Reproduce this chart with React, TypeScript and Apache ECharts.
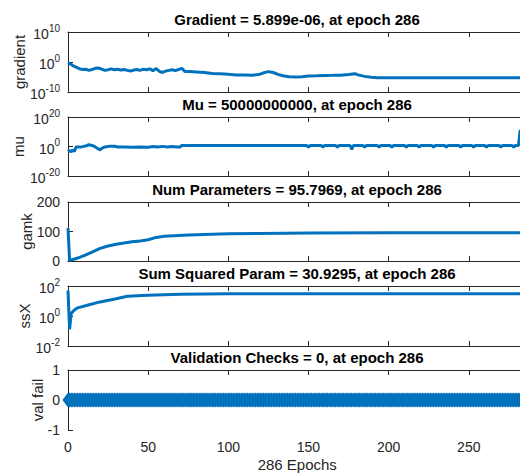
import React, { useEffect, useRef } from "react";
import * as echarts from "echarts";

// ---------- data ----------
const xTicks = [0, 50, 100, 150, 200, 250];
const xMax = 286;

const gradEpochs = [0, 1, 3, 5, 7, 9, 11, 13, 15, 17, 19, 21, 23, 25, 27, 29, 31, 33, 35, 37, 39, 41, 43, 45, 47, 49, 51, 53, 55, 57, 59, 61, 63, 65, 67, 69, 71, 73, 76, 80, 85, 90, 95, 100, 105, 110, 115, 119, 122, 125, 128, 131, 134, 138, 142, 146, 150, 155, 160, 165, 170, 175, 179, 181, 185, 189, 193, 200, 240, 286];
const gradient = [0.63, 0.32, 0.063, 0.02, 6.3e-3, 3.2e-3, 4e-3, 1.6e-3, 3.2e-3, 7.9e-3, 0.01, 4e-3, 1.6e-3, 2.5e-3, 5e-3, 2.5e-3, 4e-3, 2e-3, 3.2e-3, 1.6e-3, 1e-3, 2e-3, 3.2e-3, 1.6e-3, 4e-3, 2.5e-3, 5e-3, 1.3e-3, 6.3e-3, 7.9e-4, 3.2e-4, 1e-3, 1.6e-3, 2.5e-3, 1.3e-3, 3.2e-3, 7.9e-3, 6.3e-4, 6.3e-4, 5e-4, 3.2e-4, 1.6e-4, 1.3e-4, 7.9e-5, 5e-5, 5e-5, 4e-5, 6.3e-5, 2.5e-4, 6.3e-4, 3.2e-4, 7.9e-5, 2.5e-5, 1.2e-5, 1e-5, 1.3e-5, 2e-5, 2.5e-5, 3.2e-5, 3.5e-5, 4e-5, 6.3e-5, 1.3e-4, 5e-5, 1.6e-5, 8e-6, 6e-6, 5.9e-6, 5.9e-6, 5.899e-6];
const gradTickExp = [-10, 0, 10];

const muEpochs = [0, 1, 2, 3, 4, 5, 7, 9, 11, 13, 15, 17, 19, 20, 21, 23, 26, 29, 31, 35, 40, 45, 50, 53, 56, 59, 62, 65, 68, 70, 71, 149, 150, 151, 158, 159, 160, 167, 168, 169, 176, 177, 178, 184, 185, 186, 193, 194, 195, 201, 202, 203, 210, 211, 212, 218, 219, 220, 227, 228, 229, 235, 236, 237, 244, 245, 246, 252, 253, 254, 260, 261, 262, 269, 270, 271, 277, 278, 279, 281, 282, 286];
const mu = [3e-4, 2e-3, 3e-4, 5e-3, 5e-4, 0.5, 0.5, 0.8, 2, 15, 5, 0.5, 0.02, 0.005, 0.05, 0.5, 1.5, 1.5, 0.5, 0.4, 0.3, 0.5, 0.3, 1, 0.5, 1.2, 0.5, 1, 0.5, 0.5, 5, 5, 0.3, 5, 5, 0.3, 5, 5, 0.3, 5, 5, 0.01, 5, 5, 0.3, 5, 5, 0.3, 5, 5, 0.3, 5, 5, 0.3, 5, 5, 0.3, 5, 5, 0.3, 5, 5, 0.3, 5, 5, 0.3, 5, 5, 0.3, 5, 5, 0.3, 5, 5, 0.3, 5, 5, 0.3, 5, 5, 5e10, 5e10];
const muTickExp = [-20, 0, 20];

const gamkEpochs = [0, 1, 3, 6, 10, 15, 20, 25, 30, 35, 40, 45, 50, 55, 60, 66, 75, 85, 100, 120, 150, 200, 286];
const gamk = [111, 2, 5, 10, 18, 30, 43, 51, 57, 61, 65, 68, 72, 80, 84, 86, 88, 90, 92, 93.5, 95, 95.6, 95.7969];

const ssxEpochs = [0, 1, 2, 4, 6, 12, 20, 30, 37, 50, 70, 100, 150, 286];
const ssX = [50, 0.13, 1.5, 2.5, 3.5, 5.2, 8.7, 14, 21, 24, 28, 30, 30.9, 30.9295];
const ssxTickExp = [-2, 0, 2];

const valEpochs = Array.from({ length: 287 }, (_, i) => i);
const valFail = [
  0,0,0,0,0,0,0,0,0,0,0,0,0,0,0,0,0,0,0,0,0,0,0,0,0,0,0,0,0,0,0,0,0,0,0,0,0,0,0,0,0,0,0,0,0,0,0,0,0,0,
  0,0,0,0,0,0,0,0,0,0,0,0,0,0,0,0,0,0,0,0,0,0,0,0,0,0,0,0,0,0,0,0,0,0,0,0,0,0,0,0,0,0,0,0,0,0,0,0,0,0,
  0,0,0,0,0,0,0,0,0,0,0,0,0,0,0,0,0,0,0,0,0,0,0,0,0,0,0,0,0,0,0,0,0,0,0,0,0,0,0,0,0,0,0,0,0,0,0,0,0,0,
  0,0,0,0,0,0,0,0,0,0,0,0,0,0,0,0,0,0,0,0,0,0,0,0,0,0,0,0,0,0,0,0,0,0,0,0,0,0,0,0,0,0,0,0,0,0,0,0,0,0,
  0,0,0,0,0,0,0,0,0,0,0,0,0,0,0,0,0,0,0,0,0,0,0,0,0,0,0,0,0,0,0,0,0,0,0,0,0,0,0,0,0,0,0,0,0,0,0,0,0,0,
  0,0,0,0,0,0,0,0,0,0,0,0,0,0,0,0,0,0,0,0,0,0,0,0,0,0,0,0,0,0,0,0,0,0,0,0,0
];

const titles = [
  "Gradient = 5.899e-06, at epoch 286",
  "Mu = 50000000000, at epoch 286",
  "Num Parameters = 95.7969, at epoch 286",
  "Sum Squared Param = 30.9295, at epoch 286",
  "Validation Checks = 0, at epoch 286",
];
const yNames = ["gradient", "mu", "gamk", "ssX", "val fail"];

// ---------- style ----------
const FONT = '"Liberation Sans", Arial, Helvetica, sans-serif';
const BLUE = "#0072BD";
const AX = "#262626";
const gridLayout = [
  { top: 32, height: 60 },
  { top: 117, height: 59 },
  { top: 202, height: 59 },
  { top: 286, height: 60 },
  { top: 370, height: 60 },
];
const LEFT = 68;
const PLOT_W = 458.5; // plot extends past the 520px window, as in the reference
const CX = 297;
const yNameX = [19, 18, 26, 24, 37];

const pairs = (xs: number[], ys: number[]) => xs.map((x, i) => [x, ys[i]]);

const supRich = {
  b: { fontSize: 14, fontFamily: FONT, color: AX, verticalAlign: "bottom", lineHeight: 18 },
  s: { fontSize: 10, fontFamily: FONT, color: AX, verticalAlign: "top", lineHeight: 9 },
};

function App() {
  const ref = useRef<HTMLDivElement>(null);
  useEffect(() => {
    if (!ref.current) return;
    const chart = echarts.init(ref.current, null, { renderer: "svg" });

    const grid = gridLayout.map((g) => ({
      left: LEFT,
      width: PLOT_W,
      top: g.top,
      height: g.height,
      containLabel: false,
      outerBoundsMode: "none",
    }));

    const xAxis: any[] = [];
    gridLayout.forEach((_, i) => {
      const last = i === gridLayout.length - 1;
      const common = {
        gridIndex: i,
        type: "value",
        min: 0,
        max: xMax,
        interval: xTicks[1] - xTicks[0],
        axisLine: { show: true, lineStyle: { color: AX, width: 1 } },
        axisTick: { show: true, inside: true, length: 5, lineStyle: { color: AX } },
        splitLine: { show: false },
      };
      xAxis.push({
        ...common,
        position: "bottom",
        axisLabel: {
          show: last,
          showMaxLabel: false,
          fontSize: 14,
          fontFamily: FONT,
          color: AX,
          margin: 10,
        },
        name: last ? "286 Epochs" : "",
        nameLocation: "middle",
        nameGap: 27,
        nameTextStyle: { fontSize: 15, fontFamily: FONT, color: AX },
      });
      xAxis.push({ ...common, position: "top", axisLabel: { show: false } });
    });

    const logAxis = (i: number, minE: number, maxE: number, step: number, exps: number[]) => ({
      gridIndex: i,
      type: "log",
      logBase: 10,
      min: Math.pow(10, minE),
      max: Math.pow(10, maxE),
      interval: step,
      axisLine: { show: true, lineStyle: { color: AX, width: 1 } },
      axisTick: { show: true, inside: true, length: 5, lineStyle: { color: AX } },
      splitLine: { show: false },
      minorTick: { show: false },
      axisLabel: {
        margin: 8,
        formatter: (_v: number, idx: number) => `{b|10}{s|${exps[idx]}}`,
        rich: supRich,
      },
    });
    const linAxis = (i: number, min: number, max: number, step: number) => ({
      gridIndex: i,
      type: "value",
      min,
      max,
      interval: step,
      axisLine: { show: true, lineStyle: { color: AX, width: 1 } },
      axisTick: { show: true, inside: true, length: 5, lineStyle: { color: AX } },
      splitLine: { show: false },
      axisLabel: { margin: 8, fontSize: 14, fontFamily: FONT, color: AX },
    });

    const yAxis = [
      logAxis(0, -10, 10, 10, gradTickExp),
      logAxis(1, -20, 20, 20, muTickExp),
      linAxis(2, 0, 200, 100),
      logAxis(3, -2, 2, 2, ssxTickExp),
      linAxis(4, -1, 1, 1),
    ];

    const lineSeries = (i: number, data: number[][]) => ({
      type: "line",
      xAxisIndex: 2 * i,
      yAxisIndex: i,
      data,
      showSymbol: false,
      lineStyle: { width: 3, color: BLUE },
      itemStyle: { color: BLUE },
      clip: true,
    });

    const series = [
      lineSeries(0, pairs(gradEpochs, gradient)),
      lineSeries(1, pairs(muEpochs, mu)),
      lineSeries(2, pairs(gamkEpochs, gamk)),
      lineSeries(3, pairs(ssxEpochs, ssX)),
      {
        type: "line",
        xAxisIndex: 8,
        yAxisIndex: 4,
        data: pairs(valEpochs, valFail),
        showSymbol: true,
        showAllSymbol: true,
        symbol: "diamond",
        symbolSize: [11, 15],
        lineStyle: { width: 3, color: BLUE },
        itemStyle: { color: BLUE, borderWidth: 0 },
        clip: true,
      },
    ];

    const graphic: any[] = [];
    titles.forEach((t, i) => {
      graphic.push({
        type: "text",
        x: CX,
        y: gridLayout[i].top - 12.5,
        style: {
          text: t,
          fontSize: 15,
          fontWeight: "bold",
          fontFamily: FONT,
          fill: "#000",
          align: "center",
          verticalAlign: "middle",
          textAlign: "center",
          textVerticalAlign: "middle",
        },
      });
    });
    yNames.forEach((n, i) => {
      graphic.push({
        type: "text",
        x: yNameX[i],
        y: gridLayout[i].top + gridLayout[i].height / 2,
        rotation: Math.PI / 2,
        style: {
          text: n,
          fontSize: 15,
          fontFamily: FONT,
          fill: AX,
          align: "center",
          verticalAlign: "middle",
          textAlign: "center",
          textVerticalAlign: "middle",
        },
      });
    });

    chart.setOption({
      animation: false,
      backgroundColor: "#ffffff",
      grid,
      xAxis,
      yAxis,
      series,
      graphic,
    } as any);

    return () => chart.dispose();
  }, []);

  return (
    <div
      ref={ref}
      style={{ position: "fixed", left: 0, top: 0, width: 520, height: 474, background: "#fff" }}
    />
  );
}

export default App;
